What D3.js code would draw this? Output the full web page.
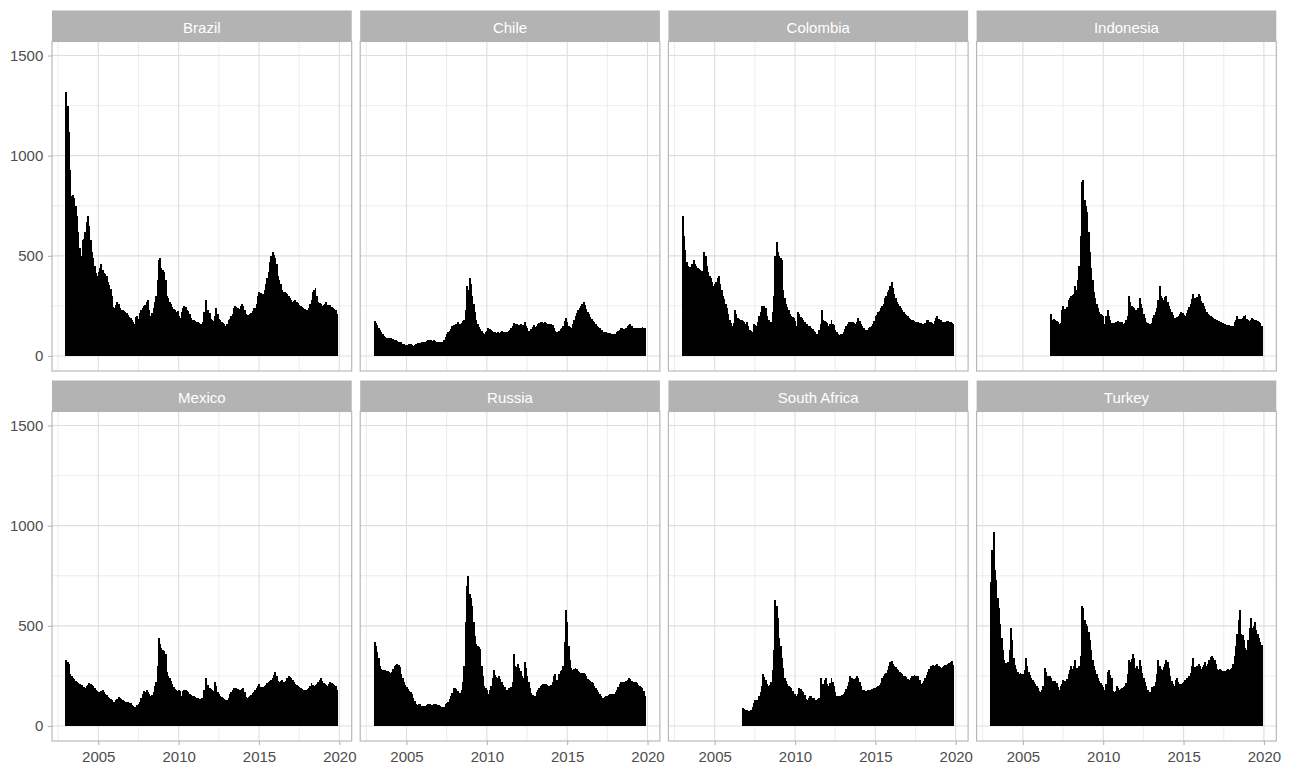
<!DOCTYPE html>
<html>
<head>
<meta charset="utf-8">
<script src="https://cdn.jsdelivr.net/npm/d3@7"></script>
<style>
  body { margin: 0; background: #fff; }
  text { font-family: "Liberation Sans", Arial, sans-serif; }
</style>
</head>
<body>
<svg id="chart" width="1289" height="766"></svg>
<script>
// Monthly sovereign spreads (bp), one array per country, starting at the month given in firstMonth
// (months counted from Jan 2003), running through Nov 2019.
const countries = ["Brazil", "Chile", "Colombia", "Indonesia", "Mexico", "Russia", "South Africa", "Turkey"];
const firstMonth = [0, 0, 0, 45, 0, 0, 45, 0];

const brazil = [
  1320,1250,1120,930,800,805,790,750,700,620,540,500,
  580,585,620,670,700,650,580,520,490,450,415,400,
  420,440,460,430,415,410,400,370,355,335,300,245,
  240,255,270,260,240,232,228,225,222,215,205,195,
  190,180,170,160,195,200,185,215,230,240,250,255,
  270,280,230,200,215,240,270,300,380,480,490,440,
  430,420,380,300,290,270,260,245,235,230,220,225,
  200,190,220,240,250,245,230,225,210,190,180,178,
  175,172,168,165,160,158,170,220,280,225,230,215,
  185,178,175,200,240,210,185,178,170,165,158,152,
  160,180,185,200,210,240,250,245,240,235,250,260,
  250,230,210,205,205,210,215,225,240,240,260,300,
  320,315,300,310,330,360,390,420,470,500,520,505,
  490,460,400,380,360,330,320,320,315,310,300,290,
  280,270,275,280,270,265,255,250,245,240,235,230,
  230,240,260,280,320,330,340,300,270,265,260,250,
  255,260,270,255,250,255,245,240,235,230,212
];
const chile = [
  175,165,155,140,130,120,110,100,95,92,90,90,
  88,87,85,82,78,75,72,70,68,62,58,55,
  55,57,60,58,55,52,55,60,65,66,65,68,
  70,70,72,75,78,80,78,76,78,75,72,70,
  70,68,70,72,80,95,110,120,125,135,150,155,
  155,160,170,160,158,165,175,180,230,350,330,390,
  360,300,260,220,180,160,145,135,125,115,110,120,
  125,140,135,130,125,120,118,115,118,115,120,125,
  118,120,118,122,125,130,140,150,165,158,160,152,
  155,160,150,155,170,150,140,125,120,135,145,155,
  145,150,160,165,170,168,165,168,165,162,160,158,
  160,155,140,125,122,118,125,135,140,150,175,190,
  170,150,145,140,160,180,200,215,230,240,250,260,
  270,255,235,220,210,195,185,175,170,160,152,145,
  140,132,128,122,120,118,116,115,113,112,110,110,
  112,118,125,130,140,138,135,132,140,150,155,160,
  150,142,140,138,135,138,140,142,145,142,138
];
const colombia = [
  700,600,530,470,450,445,440,460,480,460,450,440,
  435,430,425,420,520,500,450,420,400,390,370,350,
  360,370,390,400,360,330,300,285,260,240,210,180,
  165,150,165,230,210,190,185,180,178,175,170,160,
  168,150,130,125,120,160,155,150,170,200,220,250,
  250,250,240,200,180,160,170,220,300,500,570,520,
  500,490,480,330,290,260,245,230,210,200,195,190,
  175,150,220,210,195,190,180,170,162,158,150,148,
  140,135,125,118,110,112,130,160,230,180,175,170,
  165,150,160,180,160,155,130,120,112,105,108,112,
  120,135,150,160,170,172,168,172,165,160,170,190,
  175,160,150,140,130,128,132,140,145,152,160,175,
  200,205,220,225,240,250,260,290,300,320,330,350,
  370,340,310,290,270,260,250,240,230,220,212,205,
  200,192,185,182,178,175,172,170,168,165,163,162,
  160,165,180,178,172,170,165,160,175,190,200,185,
  182,178,172,170,172,175,173,170,168,165,160
];
const indonesia = [
  210,180,185,
  180,175,170,160,165,230,250,235,220,245,280,290,
  300,305,310,350,330,380,450,600,870,880,780,750,
  720,620,520,440,380,320,290,260,240,220,210,205,
  200,160,200,230,200,180,165,160,165,170,172,175,
  172,170,168,160,165,180,200,300,270,250,245,240,
  230,200,240,290,260,240,210,190,170,165,160,158,
  165,190,205,220,240,280,350,300,290,280,295,300,
  270,250,235,220,205,190,192,195,200,210,220,215,
  205,200,215,230,245,260,285,310,290,280,295,310,
  300,275,265,250,235,220,210,205,200,195,190,185,
  182,178,175,170,168,165,160,158,157,155,153,150,
  145,150,170,180,200,185,180,185,190,200,205,185,
  180,175,182,190,185,180,178,176,172,165,150
];
const mexico = [
  330,320,310,260,250,240,235,225,220,215,210,205,
  205,195,190,200,205,215,210,205,200,190,180,175,
  170,165,175,180,170,160,155,145,140,135,128,120,
  122,128,135,145,140,135,130,125,120,120,118,115,
  115,105,100,95,85,105,112,120,140,160,175,170,
  180,170,160,150,155,170,200,220,300,440,410,390,
  380,375,360,270,250,240,225,210,195,185,178,175,
  178,175,150,175,180,178,175,168,160,155,150,148,
  145,140,138,135,136,138,140,180,240,200,205,190,
  185,180,175,220,200,170,160,152,145,140,135,130,
  130,140,160,170,180,190,188,190,185,180,182,185,
  190,170,145,140,145,150,155,165,170,180,190,200,
  210,195,190,195,200,205,215,220,225,230,240,255,
  270,250,225,220,225,228,222,220,225,240,250,245,
  240,230,220,210,205,200,195,188,185,182,180,182,
  185,190,200,215,205,200,205,210,220,230,240,225,
  215,210,205,200,210,220,215,210,205,200,178
];
const russia = [
  420,400,370,340,300,285,280,280,278,275,272,270,
  262,270,285,298,305,310,305,295,260,240,220,205,
  195,185,175,170,160,140,125,110,105,110,108,102,
  100,102,100,105,110,108,105,106,110,112,108,105,
  105,100,95,90,95,110,115,120,135,150,165,190,
  190,185,175,160,165,180,220,300,520,700,750,660,
  640,600,520,450,410,400,395,385,300,250,200,190,
  180,160,180,200,240,280,255,245,240,250,235,220,
  205,195,180,182,188,192,195,220,360,300,295,310,
  290,275,250,240,320,290,250,220,190,165,155,145,
  150,170,180,190,200,205,210,212,210,205,202,200,
  205,220,250,260,230,220,260,275,280,300,420,580,
  520,400,330,290,280,285,290,285,275,270,265,262,
  262,260,250,235,230,225,222,215,200,190,180,170,
  160,150,140,140,145,150,150,155,160,158,160,162,
  170,180,195,210,220,222,218,220,225,230,240,235,
  225,220,218,222,215,205,200,195,190,175,150
];
const southAfrica = [
  88,85,82,
  80,75,76,80,95,115,130,128,132,150,170,200,
  260,245,230,210,200,205,220,280,380,630,600,540,
  440,400,340,290,240,225,210,200,195,190,175,160,
  158,150,160,190,185,175,170,155,135,130,140,150,
  148,140,138,130,132,135,140,240,200,210,230,240,
  210,200,215,240,220,200,170,150,148,150,152,155,
  160,170,185,200,220,250,240,230,235,240,250,240,
  220,200,182,178,175,176,178,180,182,185,186,188,
  190,195,200,205,215,240,250,260,265,280,300,320,
  325,310,300,295,285,280,270,262,258,252,250,245,
  235,230,240,250,252,255,252,250,248,230,210,215,
  225,240,255,270,285,300,295,302,300,305,310,300,
  295,290,295,300,302,305,310,312,318,322,305
];
const turkey = [
  720,880,970,780,730,640,590,510,440,380,330,315,
  305,320,380,490,430,340,305,285,270,260,262,260,
  260,280,340,300,270,255,240,230,220,210,200,190,
  175,170,180,200,290,270,250,248,252,240,225,215,
  225,215,195,180,200,210,230,225,220,235,260,280,
  300,285,300,330,290,280,300,350,600,590,530,510,
  500,470,430,380,330,300,280,260,240,225,215,205,
  195,180,210,270,280,255,240,175,170,175,200,190,
  182,186,190,195,200,215,260,330,320,335,360,340,
  290,300,285,330,300,265,240,220,200,180,165,170,
  195,188,200,220,260,330,300,285,280,295,310,330,
  320,290,250,225,210,200,230,240,220,212,210,215,
  220,230,240,242,250,265,300,340,295,290,300,310,
  300,285,295,305,320,300,310,330,345,350,340,330,
  310,285,280,282,278,275,270,272,278,282,280,285,
  290,310,350,400,460,530,580,460,455,430,390,380,
  430,490,540,490,500,520,480,460,440,420,405
];
const seriesValues = [brazil, chile, colombia, indonesia, mexico, russia, southAfrica, turkey];

const yTicks = [0, 500, 1000, 1500];
const yMinorTicks = [250, 750, 1250];
const xTicks = [2005, 2010, 2015, 2020];
const xMinorTicks = [2002.5, 2007.5, 2012.5, 2017.5];

// Facet layout (2 rows x 4 columns, shared scales)
const nCols = 4;
const panelLeft0 = 52, panelStep = 308.2, panelW = 299.7;
const stripTops = [10.5, 380.5];
const stripH = 31, panelH = 329.5;

const x = d3.scaleLinear().domain([2002.12, 2020.77]).range([0, panelW]);
const y = d3.scaleLinear().domain([-75, 1570]).range([panelH, 0]);

const svg = d3.select("#chart");
const textColor = "#4D4D4D";
const gridColor = "#DEDEDE";
const frameColor = "#B3B3B3";

countries.forEach((name, i) => {
  const col = i % nCols, row = Math.floor(i / nCols);
  const left = panelLeft0 + col * panelStep;
  const stripTop = stripTops[row];
  const panelTop = stripTop + stripH;

  // strip
  const strip = svg.append("g").attr("transform", `translate(${left},${stripTop})`);
  strip.append("rect").attr("width", panelW).attr("height", stripH).attr("fill", frameColor);
  strip.append("text")
    .attr("x", panelW / 2).attr("y", 22.5)
    .attr("text-anchor", "middle")
    .attr("fill", "#ffffff")
    .attr("font-size", 15)
    .text(name);

  const g = svg.append("g").attr("transform", `translate(${left},${panelTop})`);

  // grid
  g.selectAll(".gxm").data(xMinorTicks).join("line")
    .attr("x1", d => x(d)).attr("x2", d => x(d)).attr("y1", 0).attr("y2", panelH)
    .attr("stroke", gridColor).attr("stroke-width", 0.55);
  g.selectAll(".gym").data(yMinorTicks).join("line")
    .attr("y1", d => y(d)).attr("y2", d => y(d)).attr("x1", 0).attr("x2", panelW)
    .attr("stroke", gridColor).attr("stroke-width", 0.55);
  g.selectAll(".gx").data(xTicks).join("line")
    .attr("x1", d => x(d)).attr("x2", d => x(d)).attr("y1", 0).attr("y2", panelH)
    .attr("stroke", gridColor).attr("stroke-width", 1.1);
  g.selectAll(".gy").data(yTicks).join("line")
    .attr("y1", d => y(d)).attr("y2", d => y(d)).attr("x1", 0).attr("x2", panelW)
    .attr("stroke", gridColor).attr("stroke-width", 1.1);

  // bars: one per month, centred on the first day of the month
  const vals = seriesValues[i];
  const start = firstMonth[i];
  const half = 1 / 24;
  g.append("g").attr("shape-rendering", "crispEdges")
    .selectAll("rect").data(vals).join("rect")
    .attr("x", (d, k) => x(2003 + (start + k) / 12 - half))
    .attr("width", (d, k) => x(2003 + (start + k) / 12 + half) - x(2003 + (start + k) / 12 - half) + 0.6)
    .attr("y", d => y(d))
    .attr("height", d => y(0) - y(d))
    .attr("fill", "#000000");

  // panel border
  g.append("rect").attr("width", panelW).attr("height", panelH)
    .attr("fill", "none").attr("stroke", frameColor).attr("stroke-width", 1.1);

  // y axis on first column
  if (col === 0) {
    const ya = g.append("g").call(d3.axisLeft(y).tickValues(yTicks).tickFormat(d3.format("d")).tickSize(4).tickPadding(4.7));
    ya.select(".domain").remove();
    ya.selectAll(".tick line").attr("stroke", frameColor).attr("stroke-width", 1.1);
    ya.selectAll(".tick text").attr("fill", textColor).attr("font-size", 15)
      .attr("font-family", '"Liberation Sans", Arial, sans-serif');
  }
  // x axis on bottom row
  if (row === 1) {
    const xa = g.append("g").attr("transform", `translate(0,${panelH})`)
      .call(d3.axisBottom(x).tickValues(xTicks).tickFormat(d3.format("d")).tickSize(4).tickPadding(6.3));
    xa.select(".domain").remove();
    xa.selectAll(".tick line").attr("stroke", frameColor).attr("stroke-width", 1.1);
    xa.selectAll(".tick text").attr("fill", textColor).attr("font-size", 15)
      .attr("font-family", '"Liberation Sans", Arial, sans-serif');
  }
});
</script>
</body>
</html>
